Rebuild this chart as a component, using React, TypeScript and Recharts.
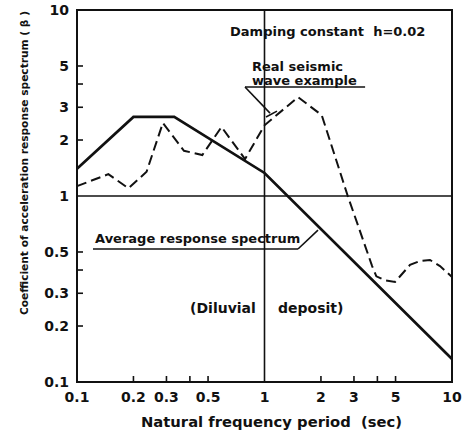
import React from 'react';
import {
  LineChart,
  Line,
  XAxis,
  YAxis,
  ReferenceLine,
  ReferenceArea,
  ReferenceDot,
  Label,
} from 'recharts';

// ---- data ----
const AVG_PERIOD = [0.1, 0.2, 0.33, 1, 10];
const AVG_BETA = [1.4, 2.66, 2.66, 1.33, 0.133];

const REAL_PERIOD = [
  0.1, 0.147, 0.188, 0.235, 0.287, 0.372, 0.466, 0.59, 0.787, 1.0, 1.51, 2.02,
  2.78, 3.75, 3.95, 4.4, 4.97, 5.97, 6.75, 7.63, 8.63, 10,
];
const REAL_BETA = [
  1.13, 1.31, 1.1, 1.35, 2.47, 1.75, 1.66, 2.35, 1.58, 2.4, 3.4, 2.72, 1.0,
  0.42, 0.37, 0.352, 0.345, 0.426, 0.447, 0.453, 0.42, 0.367,
];

const X_TICKS = [0.1, 0.2, 0.3, 0.4, 0.5, 1, 2, 3, 4, 5, 10];
const X_TICK_LABELS = ['0.1', '0.2', '0.3', '', '0.5', '1', '2', '3', '', '5', '10'];
const Y_TICKS = [0.1, 0.2, 0.3, 0.4, 0.5, 1, 2, 3, 4, 5, 10];
const Y_TICK_LABELS = ['0.1', '0.2', '0.3', '', '0.5', '1', '2', '3', '', '5', '10'];
const MINOR_TICKS = [0.2, 0.3, 0.4, 0.5, 2, 3, 4, 5];

const X_TITLE = 'Natural frequency period\u00A0\u00A0(sec)';
const Y_TITLE = 'Coefficient of acceleration response spectrum ( \u03B2 )';

// annotation texts (anchor in data coordinates: start of baseline)
const NOTES = [
  { x: 0.655, y: 7.25, text: 'Damping constant\u00A0\u00A0h=0.02', size: 13 },
  { x: 0.858, y: 4.72, text: 'Real seismic', size: 13 },
  { x: 0.858, y: 3.97, text: 'wave example', size: 13 },
  { x: 0.1248, y: 0.559, text: 'Average response spectrum', size: 13 },
  { x: 0.401, y: 0.235, text: '(Diluvial', size: 14 },
  { x: 1.18, y: 0.235, text: 'deposit)', size: 14 },
];

// leader lines (data coordinates)
const LEADERS = [
  [{ x: 0.787, y: 3.855 }, { x: 3.44, y: 3.855 }],
  [{ x: 0.787, y: 3.855 }, { x: 1.07, y: 2.79 }],
  [{ x: 1.019, y: 2.66 }, { x: 1.166, y: 2.86 }],
  [{ x: 0.1217, y: 0.519 }, { x: 1.509, y: 0.519 }],
  [{ x: 1.509, y: 0.519 }, { x: 1.929, y: 0.656 }],
];

const avgData = AVG_PERIOD.map((x, i) => ({ x, y: AVG_BETA[i] }));
const realData = REAL_PERIOD.map((x, i) => ({ x, y: REAL_BETA[i] }));

const INK = '#111';
const FONT = 'DejaVu Sans';
const X_MARGIN = 10;
const Y_MARGIN = 8;

const XTick = (props: any) => {
  const { x, y, payload } = props;
  const v = payload.value;
  const idx = X_TICKS.indexOf(v);
  const label = idx >= 0 ? X_TICK_LABELS[idx] : '';
  const axisY = y - X_MARGIN;
  return (
    <g>
      {MINOR_TICKS.includes(v) && (
        <line x1={x} x2={x} y1={axisY} y2={axisY - 6} stroke={INK} strokeWidth={1.6} />
      )}
      {label && (
        <text
          x={x}
          y={y}
          dy="0.74em"
          textAnchor="middle"
          fontFamily={FONT}
          fontWeight="bold"
          fontSize={14}
          fill={INK}
        >
          {label}
        </text>
      )}
    </g>
  );
};

const YTick = (props: any) => {
  const { x, y, payload } = props;
  const v = payload.value;
  const idx = Y_TICKS.indexOf(v);
  const label = idx >= 0 ? Y_TICK_LABELS[idx] : '';
  const axisX = x + Y_MARGIN;
  return (
    <g>
      {MINOR_TICKS.includes(v) && (
        <line x1={axisX} x2={axisX + 6} y1={y} y2={y} stroke={INK} strokeWidth={1.6} />
      )}
      {label && (
        <text
          x={x}
          y={y}
          dy="0.36em"
          textAnchor="end"
          fontFamily={FONT}
          fontWeight="bold"
          fontSize={14}
          fill={INK}
        >
          {label}
        </text>
      )}
    </g>
  );
};

const XTitle = (props: any) => {
  const vb = props.viewBox || {};
  const cx = vb.x + vb.width / 2 + 7;
  const by = vb.y + 45;
  return (
    <text
      x={cx}
      y={by}
      textAnchor="middle"
      fontFamily={FONT}
      fontWeight="bold"
      fontSize={14}
      fill={INK}
      textLength={261}
      lengthAdjust="spacingAndGlyphs"
    >
      {X_TITLE}
    </text>
  );
};

const YTitle = (props: any) => {
  const vb = props.viewBox || {};
  const bx = vb.x + 28;
  const cy = vb.y + 153;
  return (
    <text
      x={bx}
      y={cy}
      transform={`rotate(-90, ${bx}, ${cy})`}
      textAnchor="middle"
      fontFamily={FONT}
      fontWeight="bold"
      fontSize={11}
      fill={INK}
      textLength={304}
      lengthAdjust="spacingAndGlyphs"
    >
      {Y_TITLE}
    </text>
  );
};

export default function App() {
  return (
    <div
      style={{
        position: 'absolute',
        left: 0,
        top: 0,
        width: 469,
        height: 436,
        background: '#fff',
      }}
    >
      <LineChart
        width={469}
        height={436}
        margin={{ top: 10, right: 17, bottom: 0, left: 0 }}
        style={{ fontFamily: FONT }}
      >
        <XAxis
          type="number"
          dataKey="x"
          scale="log"
          domain={[0.1, 10]}
          ticks={X_TICKS}
          interval={0}
          height={54}
          axisLine={false}
          tickLine={false}
          tickSize={0}
          tickMargin={X_MARGIN}
          tick={(p: any) => <XTick {...p} />}
        >
          <Label content={(p: any) => <XTitle {...p} />} />
        </XAxis>
        <YAxis
          type="number"
          scale="log"
          domain={[0.1, 10]}
          ticks={Y_TICKS}
          interval={0}
          width={77}
          axisLine={false}
          tickLine={false}
          tickSize={0}
          tickMargin={Y_MARGIN}
          tick={(p: any) => <YTick {...p} />}
        >
          <Label content={(p: any) => <YTitle {...p} />} />
        </YAxis>

        <ReferenceArea
          x1={0.1}
          x2={10}
          y1={0.1}
          y2={10}
          fill="none"
          fillOpacity={0}
          stroke={INK}
          strokeWidth={2}
        />
        <ReferenceLine x={1} stroke={INK} strokeWidth={1.6} />
        <ReferenceLine y={1} stroke={INK} strokeWidth={1.6} />

        {LEADERS.map((seg, i) => (
          <ReferenceLine
            key={`lead-${i}`}
            segment={seg}
            stroke={INK}
            strokeWidth={1.6}
            ifOverflow="visible"
          />
        ))}

        {NOTES.map((n, i) => (
          <ReferenceDot
            key={`note-${i}`}
            x={n.x}
            y={n.y}
            r={0}
            ifOverflow="visible"
            shape={(p: any) => (
              <text
                x={p.cx}
                y={p.cy}
                textAnchor="start"
                fontFamily={FONT}
                fontWeight="bold"
                fontSize={n.size}
                fill={INK}
              >
                {n.text}
              </text>
            )}
          />
        ))}

        <Line
          data={avgData}
          dataKey="y"
          type="linear"
          stroke={INK}
          strokeWidth={2.7}
          dot={false}
          activeDot={false}
          isAnimationActive={false}
        />
        <Line
          data={realData}
          dataKey="y"
          type="linear"
          stroke={INK}
          strokeWidth={2}
          strokeDasharray="10 5"
          dot={false}
          activeDot={false}
          isAnimationActive={false}
        />
      </LineChart>
    </div>
  );
}
